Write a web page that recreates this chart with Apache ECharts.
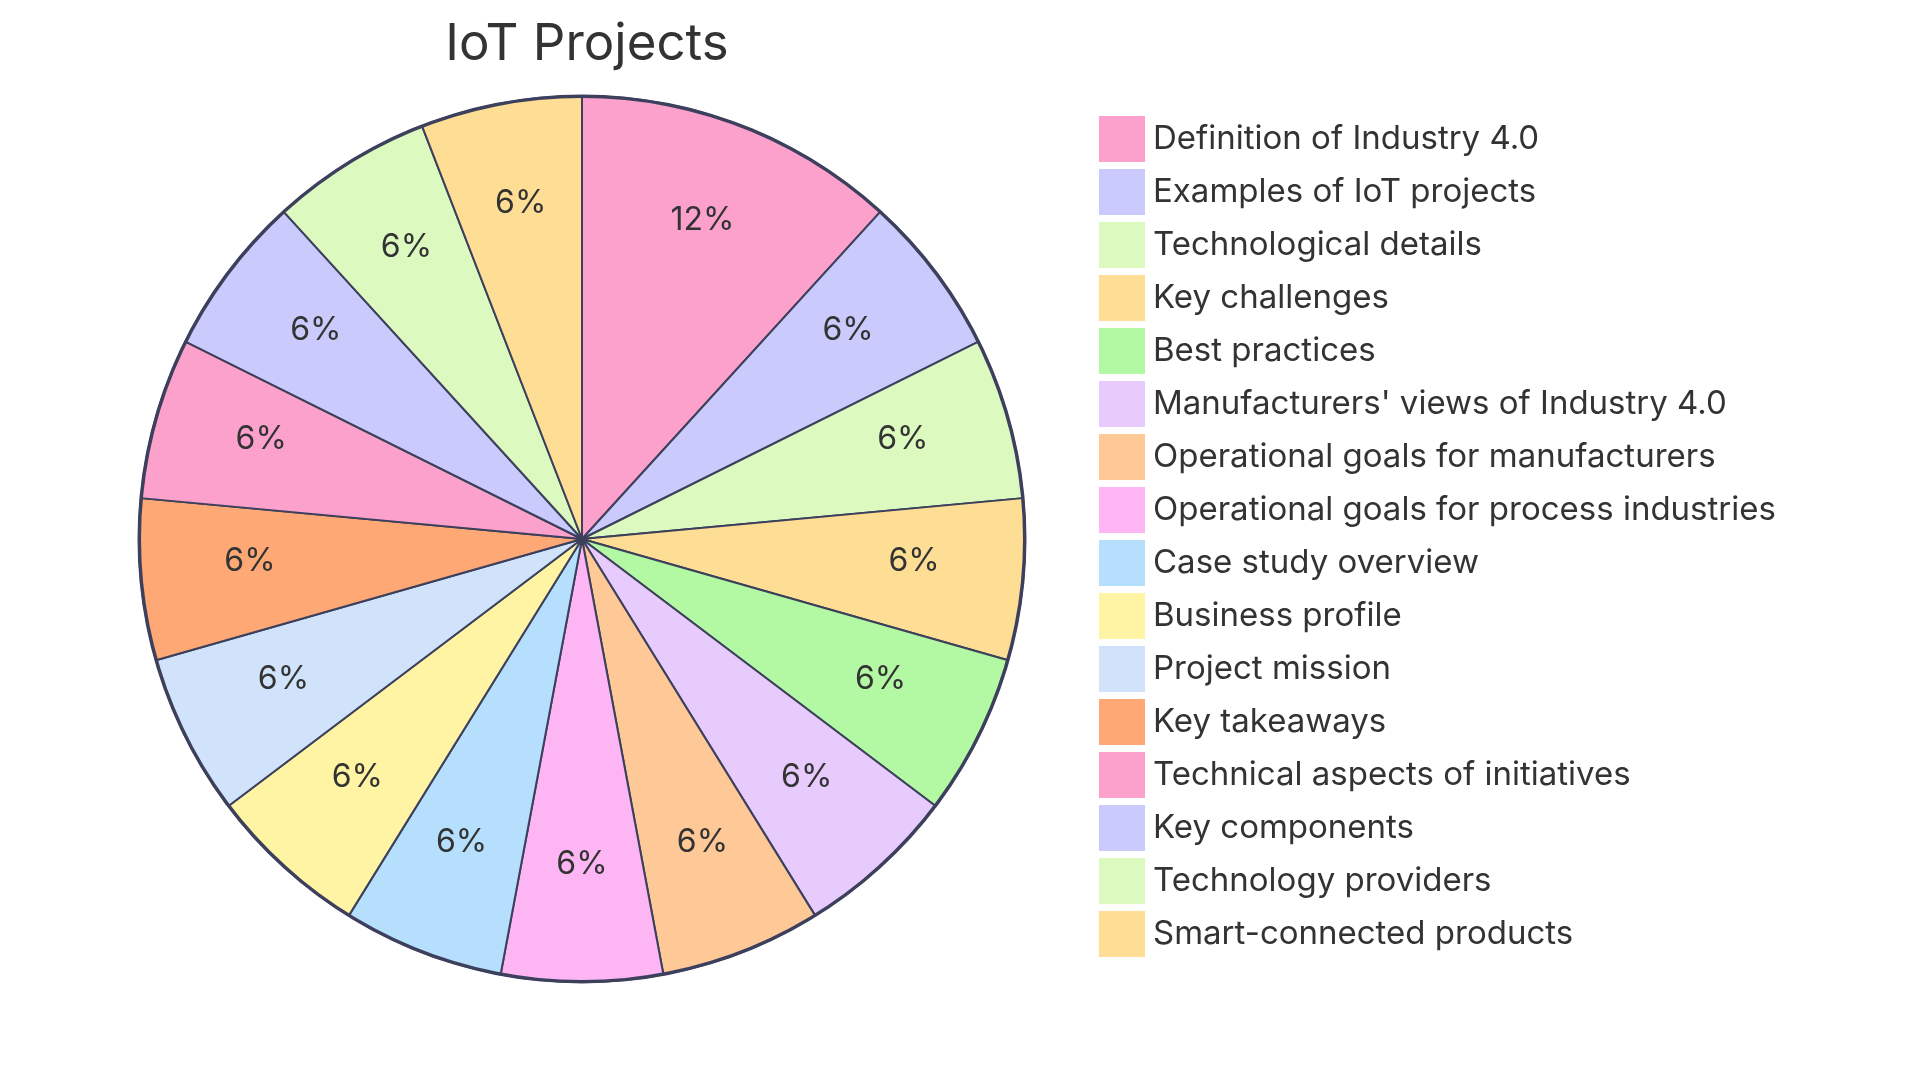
<!DOCTYPE html>
<html>
<head>
<meta charset="utf-8">
<script src="https://cdn.jsdelivr.net/npm/echarts@6/dist/echarts.min.js"></script>
<style>html,body{margin:0;padding:0;background:#fff;}#c{width:1920px;height:1080px;}</style>
</head>
<body>
<div id="c"></div>
<script>
const titleText = 'IoT Projects';
const categories = [
  'Definition of Industry 4.0',
  'Examples of IoT projects',
  'Technological details',
  'Key challenges',
  'Best practices',
  "Manufacturers' views of Industry 4.0",
  'Operational goals for manufacturers',
  'Operational goals for process industries',
  'Case study overview',
  'Business profile',
  'Project mission',
  'Key takeaways',
  'Technical aspects of initiatives',
  'Key components',
  'Technology providers',
  'Smart-connected products'
];
const values = [2,1,1,1,1,1,1,1,1,1,1,1,1,1,1,1];
const colors = ['#FCA1CB','#CACBFC','#DCF9C0','#FEDE95','#B3F8A2','#E6CBFC','#FEC897','#FDB6F3',
                '#B6DFFD','#FEF4A3','#D0E3FA','#FEA876','#FCA1CB','#CACBFC','#DCF9C0','#FEDE95'];

const total = values.reduce((a,b)=>a+b,0);
const FONT = 'Inter, "Noto Sans", sans-serif';
const center = [582, 539];
const R = 443;
const stroke = '#3d405c';

const chart = echarts.init(document.getElementById('c'));
chart.setOption({
  animation: false,
  title: {
    text: titleText, left: 582, top: 14, textAlign: 'center',
    textStyle: { fontFamily: FONT, fontSize: 51, fontWeight: 'normal', color: '#333' }
  },
  legend: {
    data: categories, orient: 'vertical', left: 1099, top: 116, padding: 0,
    itemWidth: 46, itemHeight: 46, itemGap: 7, icon: 'rect',
    itemStyle: { borderWidth: 0 },
    textStyle: { fontFamily: FONT, fontSize: 33, color: '#333', padding: [0,0,0,3] },
    selectedMode: false
  },
  series: [
    {
      type: 'pie', center: center, radius: [0, R], startAngle: 90, clockwise: true,
      label: { show: false }, labelLine: { show: false },
      itemStyle: { borderColor: stroke, borderWidth: 2 },
      emphasis: { disabled: true },
      data: categories.map((n,i)=>({ name: n, value: values[i], itemStyle: { color: colors[i] } }))
    },
    {
      type: 'pie', center: center, radius: [218, R], startAngle: 90, clockwise: true, silent: true,
      itemStyle: { color: 'rgba(0,0,0,0)', borderWidth: 0 },
      label: { show: true, position: 'inside', fontFamily: FONT, fontSize: 32, color: '#333',
        formatter: p => Math.round(p.value / total * 100) + '%' },
      labelLine: { show: false },
      labelLayout: { dy: -8 },
      emphasis: { disabled: true },
      data: categories.map((n,i)=>({ name: n, value: values[i] }))
    },
    {
      type: 'pie', center: center, radius: [R - 2, R + 1.5], silent: true,
      label: { show: false }, labelLine: { show: false },
      itemStyle: { color: stroke, borderWidth: 0 },
      emphasis: { disabled: true },
      data: [{ name: '__ring', value: 1 }]
    }
  ]
});
</script>
</body>
</html>
